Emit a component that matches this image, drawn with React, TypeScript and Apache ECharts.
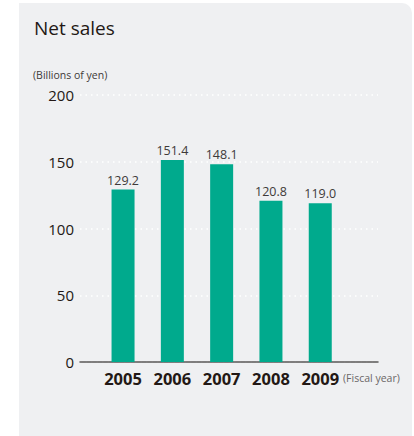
import React, { useEffect, useRef } from "react";
import * as echarts from "echarts";

const years = ["2005", "2006", "2007", "2008", "2009"];
const netSales = [129.2, 151.4, 148.1, 120.8, 119.0];
const yTicks = [0, 50, 100, 150, 200];

export default function App() {
  const ref = useRef<HTMLDivElement>(null);
  useEffect(() => {
    if (!ref.current) return;
    const chart = echarts.init(ref.current, null, { renderer: "svg" });
    const font = "'Open Sans', 'Noto Sans', sans-serif";
    const top = 95;
    const bottom = 436 - 362;
    chart.setOption({
      animation: false,
      backgroundColor: "#ffffff",
      textStyle: { fontFamily: font },
      graphic: [
        {
          type: "rect",
          z: -10,
          shape: { x: 19, y: 3, width: 393, height: 440, r: [0, 10, 0, 0] },
          style: { fill: "#eff0f2" },
        },
        {
          type: "text",
          x: 34,
          y: 18,
          style: { text: "Net sales", fontSize: 19, fill: "#231815", fontFamily: font },
        },
        {
          type: "text",
          x: 33,
          y: 69,
          style: { text: "(Billions of yen)", fontSize: 10.5, fill: "#3e3a39", fontFamily: font },
        },
        {
          type: "text",
          x: 343,
          y: 372,
          style: { text: "(Fiscal year)", fontSize: 10.5, fill: "#6b6767", fontFamily: font },
        },
      ],
      grid: [
        { left: 80, right: 36, top, bottom },
        { left: 98.4, width: 246.5, top, bottom },
      ],
      xAxis: [
        {
          type: "value",
          gridIndex: 0,
          min: 0,
          max: 1,
          axisLine: { show: true, onZero: false, lineStyle: { color: "#595757", width: 1.5 } },
          axisTick: { show: false },
          axisLabel: { show: false },
          splitLine: { show: false },
        },
        {
          type: "category",
          gridIndex: 1,
          data: years,
          axisLine: { show: false },
          axisTick: { show: false },
          axisLabel: {
            margin: 8,
            fontSize: 16.5,
            fontWeight: "bold",
            color: "#231815",
            fontFamily: font,
          },
        },
      ],
      yAxis: [
        {
          type: "value",
          gridIndex: 0,
          min: yTicks[0],
          max: yTicks[yTicks.length - 1],
          interval: 50,
          axisLine: { show: false },
          axisTick: { show: false },
          axisLabel: { margin: 6, fontSize: 15, color: "#231815", fontFamily: font },
          splitLine: {
            show: true,
            lineStyle: { color: "#ffffff", type: [1.5, 4], width: 1.5 },
          },
        },
        {
          type: "value",
          gridIndex: 1,
          min: 0,
          max: 200,
          show: false,
          splitLine: { show: false },
        },
      ],
      series: [
        {
          type: "bar",
          xAxisIndex: 1,
          yAxisIndex: 1,
          data: netSales,
          barWidth: 23,
          itemStyle: { color: "#00aa8d" },
          label: {
            show: true,
            position: "top",
            distance: 3,
            fontSize: 12.5,
            color: "#3e3a39",
            fontFamily: font,
            formatter: (p: any) => p.value.toFixed(1),
          },
        },
      ],
    });
    return () => chart.dispose();
  }, []);
  return (
    <div
      ref={ref}
      style={{ position: "fixed", left: 0, top: 0, width: 414, height: 436 }}
    />
  );
}
